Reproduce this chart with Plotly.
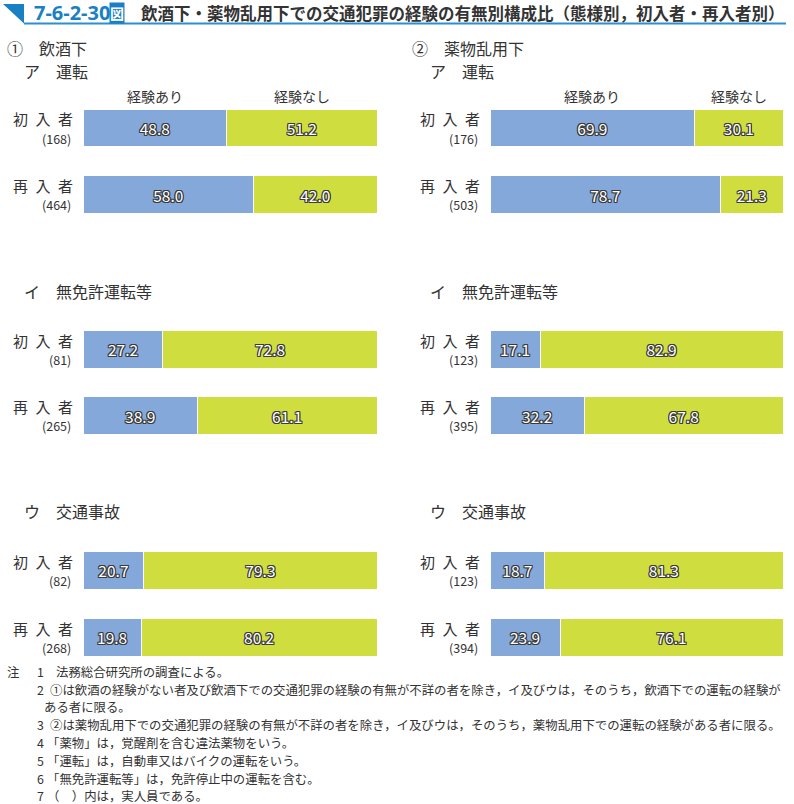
import plotly.graph_objects as go

W, H = 794, 804
FONT = "Noto Sans CJK JP"
TXT = "#333333"
BLUE = "#83a8d9"
GREEN = "#cfdd3f"

groups = ["初入者", "再入者"]

# ① 飲酒下
alc_drive_yes = [48.8, 58.0]
alc_drive_no = [51.2, 42.0]
alc_drive_n = [168, 464]
alc_unlic_yes = [27.2, 38.9]
alc_unlic_no = [72.8, 61.1]
alc_unlic_n = [81, 265]
alc_acc_yes = [20.7, 19.8]
alc_acc_no = [79.3, 80.2]
alc_acc_n = [82, 268]
# ② 薬物乱用下
drug_drive_yes = [69.9, 78.7]
drug_drive_no = [30.1, 21.3]
drug_drive_n = [176, 503]
drug_unlic_yes = [17.1, 32.2]
drug_unlic_no = [82.9, 67.8]
drug_unlic_n = [123, 395]
drug_acc_yes = [18.7, 23.9]
drug_acc_no = [81.3, 76.1]
drug_acc_n = [123, 394]

series_names = ["経験あり", "経験なし"]
section_titles = ["①　飲酒下", "②　薬物乱用下"]
panel_titles = ["ア　運転", "イ　無免許運転等", "ウ　交通事故"]

notes = [
    ("注", "1", "法務総合研究所の調査による。"),
    ("", "2", "①は飲酒の経験がない者及び飲酒下での交通犯罪の経験の有無が不詳の者を除き，イ及びウは，そのうち，飲酒下での運転の経験が"),
    ("", "", "ある者に限る。"),
    ("", "3", "②は薬物乱用下での交通犯罪の経験の有無が不詳の者を除き，イ及びウは，そのうち，薬物乱用下での運転の経験がある者に限る。"),
    ("", "4", "「薬物」は，覚醒剤を含む違法薬物をいう。"),
    ("", "5", "「運転」は，自動車又はバイクの運転をいう。"),
    ("", "6", "「無免許運転等」は，免許停止中の運転を含む。"),
    ("", "7", "（　）内は，実人員である。"),
]

panels = [
    (alc_drive_yes, alc_drive_no, alc_drive_n),
    (drug_drive_yes, drug_drive_no, drug_drive_n),
    (alc_unlic_yes, alc_unlic_no, alc_unlic_n),
    (drug_unlic_yes, drug_unlic_no, drug_unlic_n),
    (alc_acc_yes, alc_acc_no, alc_acc_n),
    (drug_acc_yes, drug_acc_no, drug_acc_n),
]


def px(x):
    return x / W


def py(y):
    return 1 - y / H


col_dom = [[px(83), px(377)], [px(490), px(783)]]
row_dom = [[py(227.75), py(94.75)], [py(449.25), py(315.75)], [py(671), py(537)]]

oc = "#3a3a3a"
outline = ", ".join(f"{dx}px {dy}px 0 {oc}" for dx, dy in
                    [(-1, -1), (1, -1), (-1, 1), (1, 1), (0, 1), (0, -1), (1, 0), (-1, 0)])

fig = go.Figure()
layout = dict(
    width=W, height=H, margin=dict(l=0, r=0, t=0, b=0),
    paper_bgcolor="white", plot_bgcolor="white",
    barmode="stack", showlegend=False,
    font=dict(family=FONT, color=TXT),
)
annotations = []
shapes = []

for i, (yes, no, n) in enumerate(panels):
    r, c = divmod(i, 2)
    k = i + 1
    xa = "x" if k == 1 else f"x{k}"
    ya = "y" if k == 1 else f"y{k}"
    for vals, color, name in [(yes, BLUE, series_names[0]), (no, GREEN, series_names[1])]:
        fig.add_trace(go.Bar(
            x=vals, y=[0, 1], orientation="h", width=0.57, name=name,
            marker=dict(color=color, line=dict(color="white", width=1)),
            text=[f"{v:.1f}" for v in vals], textposition="inside",
            insidetextanchor="middle", constraintext="none", textangle=0,
            textfont=dict(family=FONT, size=15.5, color="white", shadow=outline),
            xaxis=xa, yaxis=ya, hoverinfo="skip",
        ))
    layout["xaxis" if k == 1 else f"xaxis{k}"] = dict(
        domain=col_dom[c], range=[0, 100], visible=False, anchor=ya,
    )
    layout["yaxis" if k == 1 else f"yaxis{k}"] = dict(
        domain=row_dom[r], range=[1.5, -0.5], anchor=xa,
        showgrid=False, zeroline=False, showline=False, showticklabels=False,
    )
    # category labels (group name + count)
    for j, (g, cnt) in enumerate(zip(groups, n)):
        annotations.append(dict(
            x=0, y=j, xref=f"{xa} domain", yref=ya, text="\u2002".join(g),
            showarrow=False, xanchor="right", yanchor="middle", xshift=-8, yshift=9,
            font=dict(family=FONT, size=15, color=TXT),
        ))
        annotations.append(dict(
            x=0, y=j, xref=f"{xa} domain", yref=ya, text=f"({cnt})",
            showarrow=False, xanchor="right", yanchor="middle", xshift=-10, yshift=-10,
            font=dict(family=FONT, size=12.5, color=TXT),
        ))
    # legend-like labels above the first bar of the first row
    if r == 0:
        for xc, lab in [(yes[0] / 2, series_names[0]), (yes[0] + no[0] / 2, series_names[1])]:
            annotations.append(dict(
                x=xc, y=-0.285, xref=xa, yref=ya, text=lab, showarrow=False,
                xanchor="center", yanchor="bottom", yshift=1,
                font=dict(family=FONT, size=14, color=TXT),
            ))

# section / panel titles
head_x = [(5, 22), (410, 428)]
panel_y = [71, 291, 511]
for c in range(2):
    annotations.append(dict(
        x=px(head_x[c][0]), y=py(48), xref="paper", yref="paper",
        text=section_titles[c], showarrow=False, xanchor="left", yanchor="middle",
        font=dict(family=FONT, size=16, color=TXT),
    ))
    for r in range(3):
        annotations.append(dict(
            x=px(head_x[c][1]), y=py(panel_y[r]), xref="paper", yref="paper",
            text=panel_titles[r], showarrow=False, xanchor="left", yanchor="middle",
            font=dict(family=FONT, size=16, color=TXT),
        ))

# figure title
TBLUE = "#1a80c4"
shapes.append(dict(type="path", xref="paper", yref="paper",
                   path=f"M {px(3)} {py(4)} L {px(24)} {py(4)} L {px(24)} {py(23.5)} Z",
                   fillcolor=TBLUE, line=dict(width=0)))
shapes.append(dict(type="line", xref="paper", yref="paper",
                   x0=px(24), x1=px(786), y0=py(23.5), y1=py(23.5),
                   line=dict(color="#2b8fd0", width=2)))
annotations.append(dict(
    x=px(32), y=py(12.5), xref="paper", yref="paper", text="<b>7-6-2-30</b>",
    showarrow=False, xanchor="left", yanchor="middle",
    font=dict(family="Noto Sans", size=20, color=TBLUE),
))
annotations.append(dict(
    x=px(117), y=py(12.5), xref="paper", yref="paper", text="<b>図</b>",
    showarrow=False, xanchor="center", yanchor="middle", bgcolor=TBLUE,
    borderpad=0, font=dict(family=FONT, size=14, color="white"),
))
annotations.append(dict(
    x=px(139), y=py(12.5), xref="paper", yref="paper",
    text="<b>飲酒下・薬物乱用下での交通犯罪の経験の有無別構成比（態様別，初入者・再入者別）</b>",
    showarrow=False, xanchor="left", yanchor="middle",
    font=dict(family=FONT, size=16.5, color=TXT),
))

# notes
note_y = [672, 690, 707, 725, 743, 761, 779, 796]
for (lead, num, txt), yy in zip(notes, note_y):
    nf = dict(family=FONT, size=12.4, color=TXT)
    if lead:
        annotations.append(dict(x=px(5), y=py(yy), xref="paper", yref="paper", text=lead,
                                showarrow=False, xanchor="left", yanchor="middle", font=nf))
    if num:
        annotations.append(dict(x=px(35), y=py(yy), xref="paper", yref="paper", text=num,
                                showarrow=False, xanchor="left", yanchor="middle", font=nf))
        tx = 54 if num == "1" else (45 if txt.startswith("「") or txt.startswith("（") else 48)
    else:
        tx = 42
    annotations.append(dict(x=px(tx), y=py(yy), xref="paper", yref="paper", text=txt,
                            showarrow=False, xanchor="left", yanchor="middle", font=nf))

layout["annotations"] = annotations
layout["shapes"] = shapes
fig.update_layout(**layout)
fig.write_html(
    "out.html",
    config={"displayModeBar": False},
    post_script="document.body.style.margin='0';document.body.style.overflow='hidden';",
)
